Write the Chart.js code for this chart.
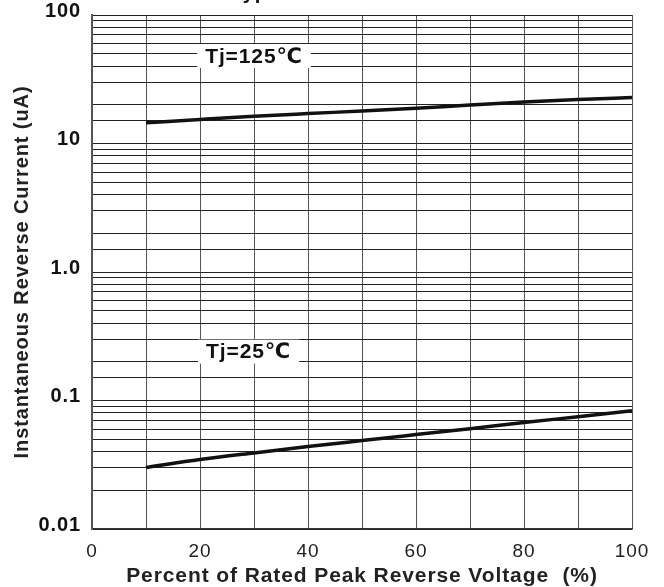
<!DOCTYPE html>
<html>
<head>
<meta charset="utf-8">
<script src="https://cdn.jsdelivr.net/npm/chart.js@4"></script>
<style>
  html, body { margin: 0; padding: 0; background: #fff; }
  #wrap { width: 664px; height: 587px; }
</style>
</head>
<body>
<div id="wrap"><canvas id="chart"></canvas></div>
<script>
// --- data ---
const voltagePct = [10, 20, 30, 40, 50, 60, 70, 80, 90, 100];
const current125 = [14.5, 15.4, 16.3, 17.1, 17.9, 18.8, 19.9, 21.0, 22.0, 22.8];
const current25 = [0.0301, 0.0347, 0.0391, 0.0438, 0.0488, 0.0543, 0.0604, 0.0673, 0.0748, 0.0832];
const xTickLabels = [0, 20, 40, 60, 80, 100];
const yTickValues = [0.01, 0.1, 1, 10, 100];
const yTickLabels = ['0.01', '0.1', '1.0', '10', '100'];
const seriesNames = ['Tj=125℃', 'Tj=25℃'];

// where the two curve labels sit, in data units
const curveLabels = [
  { text: seriesNames[0], x: 30, y: 48 },
  { text: seriesNames[1], x: 29, y: 0.24 }
];

const FONT = "'Liberation Sans', Arial, 'DejaVu Sans', sans-serif";

function toPoints(ys) {
  return voltagePct.map((x, i) => ({ x: x, y: ys[i] }));
}

// a little letter spacing for all canvas text (the original lettering is wide)
const spacingPlugin = {
  id: 'spacing',
  beforeLayout(chart) { chart.ctx.letterSpacing = '0.9px'; },
  beforeDraw(chart) { chart.ctx.letterSpacing = '0.9px'; }
};

// white boxed labels on top of the grid
const curveLabelPlugin = {
  id: 'curveLabels',
  afterDraw(chart) {
    const ctx = chart.ctx;
    const xs = chart.scales.x, ys = chart.scales.y;
    ctx.save();
    ctx.font = 'bold 21px ' + FONT;
    ctx.textAlign = 'center';
    ctx.textBaseline = 'middle';
    curveLabels.forEach(l => {
      const px = xs.getPixelForValue(l.x);
      const py = ys.getPixelForValue(l.y);
      const w = ctx.measureText(l.text).width + 16;
      ctx.fillStyle = '#fff';
      ctx.fillRect(px - w / 2, py - 12, w, 24);
      ctx.fillStyle = '#111';
      ctx.fillText(l.text, px, py + 1);
    });
    // the cut-off caption above the frame
    ctx.font = 'bold 20px ' + FONT;
    ctx.textAlign = 'left';
    ctx.textBaseline = 'alphabetic';
    ctx.fillText('Typical Reverse Characteristics', 231, -1);
    ctx.restore();
  }
};

new Chart(document.getElementById('chart'), {
  type: 'line',
  data: {
    datasets: [
      { label: seriesNames[0], data: toPoints(current125) },
      { label: seriesNames[1], data: toPoints(current25) }
    ]
  },
  options: {
    responsive: true,
    maintainAspectRatio: false,
    animation: false,
    events: [],
    layout: { padding: { left: 0, right: 32, top: 15, bottom: 0 } },
    elements: {
      line: { borderColor: '#111', borderWidth: 3.5, cubicInterpolationMode: 'monotone', fill: false },
      point: { radius: 0 }
    },
    plugins: { legend: { display: false }, tooltip: { enabled: false } },
    scales: {
      x: {
        type: 'linear',
        min: 0, max: 100,
        afterFit(scale) { scale.height = 58; scale.paddingLeft = 0; scale.paddingRight = 0; },
        grid: { color: '#555', lineWidth: 1, drawTicks: false },
        border: { color: '#333', width: 1.5 },
        ticks: {
          stepSize: 10,
          autoSkip: false,
          maxRotation: 0,
          padding: 11,
          color: '#222',
          font: { family: FONT, size: 19 },
          callback: v => xTickLabels.includes(v) ? String(v) : ''
        },
        title: {
          display: true,
          text: 'Percent of Rated Peak Reverse Voltage  (%)',
          color: '#222',
          font: { family: FONT, size: 21, weight: 'bold', lineHeight: 1 },
          padding: { top: 0, bottom: 0 }
        }
      },
      y: {
        type: 'logarithmic',
        min: 0.01, max: 100,
        afterFit(scale) { scale.width = 92; scale.paddingTop = 0; scale.paddingBottom = 0; },
        grid: { color: '#222', lineWidth: 1, drawTicks: false },
        border: { color: '#555', width: 2 },
        ticks: {
          autoSkip: false,
          padding: 11,
          labelOffset: -4,
          color: '#111',
          font: { family: FONT, size: 20, weight: 'bold' },
          callback: v => {
            const i = yTickValues.findIndex(t => Math.abs(t - v) / t < 1e-6);
            return i >= 0 ? yTickLabels[i] : '';
          }
        },
        title: {
          display: true,
          text: 'Instantaneous Reverse Current (uA)',
          color: '#222',
          font: { family: FONT, size: 20, weight: 'bold', lineHeight: 1 },
          padding: { top: 12, bottom: 0 }
        }
      }
    }
  },
  plugins: [spacingPlugin, curveLabelPlugin]
});
</script>
</body>
</html>
